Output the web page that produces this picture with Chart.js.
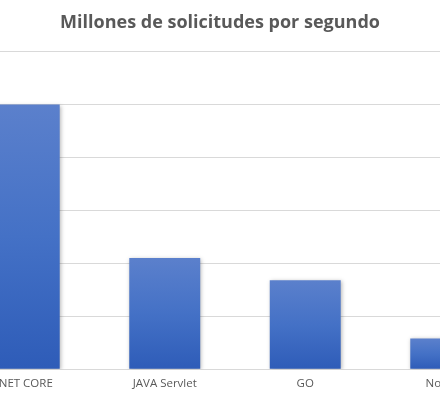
<!DOCTYPE html>
<html>
<head>
<meta charset="utf-8">
<script src="https://cdn.jsdelivr.net/npm/chart.js@4"></script>
<style>
html,body{margin:0;padding:0;background:#fff;overflow:hidden;width:440px;height:397px;}
#wrap{position:absolute;left:-76px;top:0;width:592px;height:397px;}
</style>
</head>
<body>
<div id="wrap"><canvas id="c" width="592" height="397"></canvas></div>
<script>
const categories = ['.NET CORE', 'JAVA Servlet', 'GO', 'Node.js'];
const values = [5.0, 2.1, 1.68, 0.58];
const yTicks = [0, 1, 2, 3, 4, 5, 6];
const titleText = 'Millones de solicitudes por segundo';

const shadowPlugin = {
  id: 'barShadow',
  beforeDatasetsDraw(chart) {
    const ctx = chart.ctx;
    ctx.save();
    ctx.shadowColor = 'rgba(0,0,0,0.28)';
    ctx.shadowBlur = 4;
    ctx.shadowOffsetX = 1;
    ctx.shadowOffsetY = 1;
  },
  afterDatasetsDraw(chart) {
    chart.ctx.restore();
  }
};

new Chart(document.getElementById('c'), {
  type: 'bar',
  data: {
    labels: categories,
    datasets: [{
      data: values,
      backgroundColor(context) {
        const chart = context.chart;
        const y = chart.scales && chart.scales.y;
        if (!y || context.dataIndex === undefined) return '#4472c4';
        const top = y.getPixelForValue(values[context.dataIndex]);
        const bottom = y.getPixelForValue(0);
        if (!isFinite(top) || !isFinite(bottom) || top === bottom) return '#4472c4';
        const g = chart.ctx.createLinearGradient(0, top, 0, bottom);
        g.addColorStop(0, '#5b80cc');
        g.addColorStop(0.5, '#4471c6');
        g.addColorStop(1, '#2e5cb8');
        return g;
      },
      borderWidth: 0,
      categoryPercentage: 1,
      barPercentage: 0.505
    }]
  },
  options: {
    responsive: false,
    devicePixelRatio: 1,
    animation: false,
    layout: { padding: { left: 0, right: 0, top: 4, bottom: 6 } },
    plugins: {
      legend: { display: false },
      tooltip: { enabled: false },
      title: {
        display: true,
        text: titleText,
        color: '#595959',
        font: { family: 'Open Sans', size: 18, weight: 'bold' },
        padding: { top: 8, bottom: 18 }
      }
    },
    scales: {
      x: {
        grid: { display: false },
        border: { display: false },
        ticks: {
          color: '#595959',
          font: { family: 'Open Sans', size: 11.5 },
          padding: 0,
          maxRotation: 0,
          autoSkip: false
        }
      },
      y: {
        min: yTicks[0],
        max: yTicks[yTicks.length - 1],
        afterBuildTicks(axis) { axis.ticks = yTicks.map(v => ({ value: v })); },
        afterFit(axis) { axis.width = 30; },
        ticks: { display: false },
        grid: { color: '#d9d9d9', lineWidth: 1, drawTicks: false },
        border: { display: false }
      }
    }
  },
  plugins: [shadowPlugin]
});
</script>
</body>
</html>
